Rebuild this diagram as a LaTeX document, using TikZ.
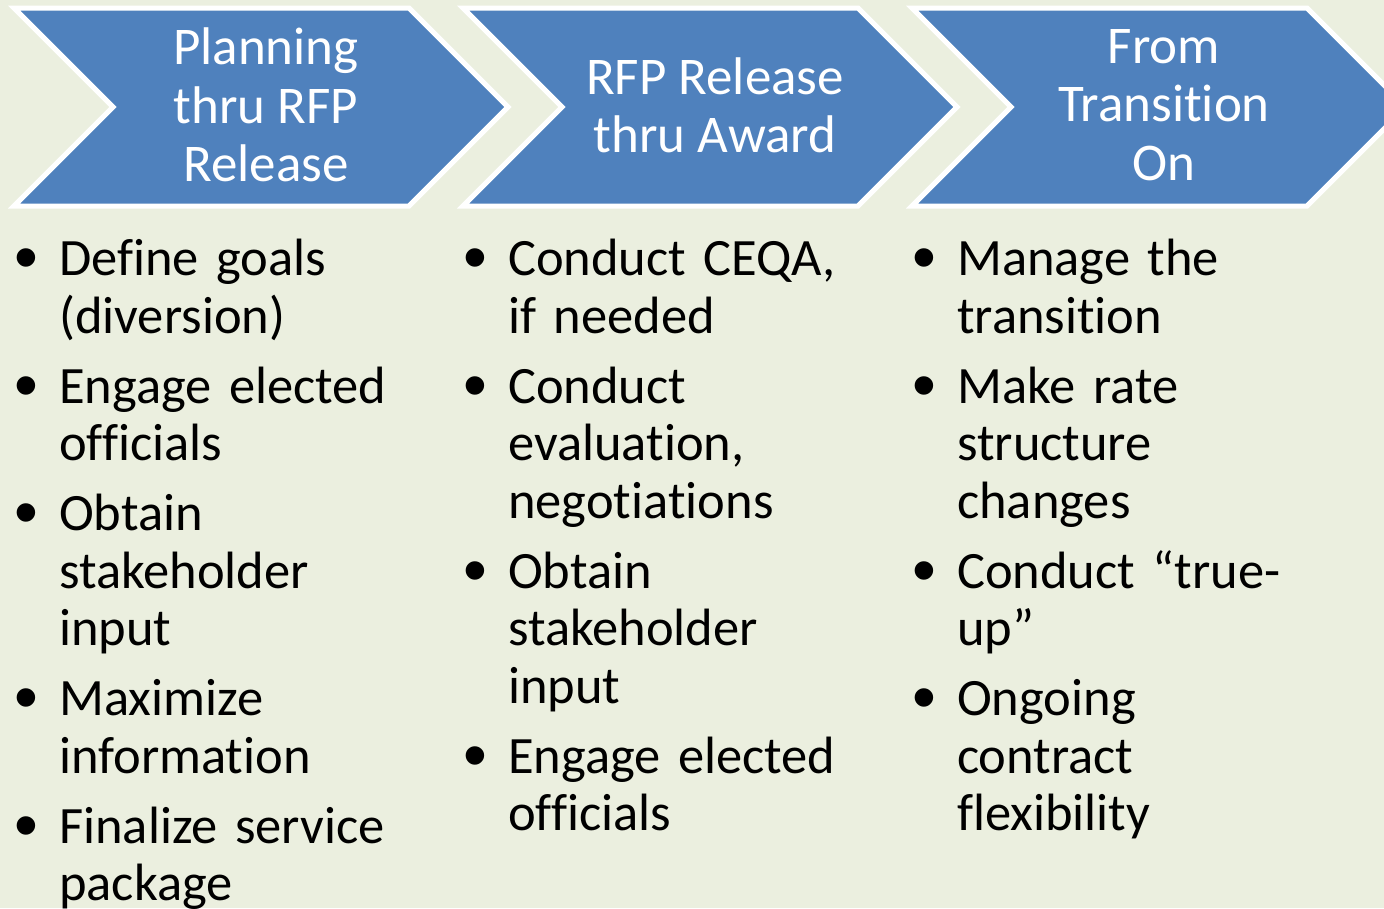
\documentclass[tikz,border=0pt]{standalone}
\usepackage{fontspec}
\setmainfont{Carlito}[Ligatures={TeX,NoCommon}]
\newfontfamily\bulletfont{Liberation Sans}
\usetikzlibrary{positioning}
\definecolor{chevblue}{HTML}{4F81BD}
\definecolor{paper}{HTML}{EBEFDF}
% bullet list used under each chevron
\newcommand{\stepbullet}{\raisebox{-5pt}{\bulletfont\fontsize{68}{68}\selectfont\char"2022}}
\newenvironment{steplist}{%
  \begin{list}{\stepbullet}{%
    \setlength{\leftmargin}{45pt}\setlength{\labelsep}{21pt}%
    \setlength{\labelwidth}{24pt}\setlength{\itemindent}{0pt}%
    \setlength{\itemsep}{12.5pt}\setlength{\parsep}{0pt}%
    \setlength{\topsep}{0pt}\setlength{\partopsep}{0pt}}\raggedright}%
  {\end{list}}

\begin{document}
\begin{tikzpicture}[
    x=1pt, y=-1pt,
    chevron/.style={fill=chevblue, draw=white, line width=5pt},
    header/.style={text=white, align=center, inner sep=0pt, font=\fontsize{53}{58.3}\selectfont},
    column/.style={anchor=base west, inner sep=0pt, text width=430pt, font=\fontsize{52.5}{57.5}\selectfont}
]
\useasboundingbox (0,0) rectangle (1384,908);
\fill[paper] (0,0) rectangle (1384,908);
\clip (0,0) rectangle (1384,908);

% Chevrons
\foreach \ox in {0,449,898}
  \draw[chevron] (14+\ox,8) -- (409+\ox,8) -- (508+\ox,107) -- (409+\ox,206)
    -- (14+\ox,206) -- (113+\ox,107) -- cycle;

% Headers
\node[header] (plan) at (266,105) {Planning\\thru RFP\\Release};
\node[header] (award) at (715,105) {RFP Release\\thru Award};
\node[header] (transition) at (1164,105) {From\\Transition\\On};

% Bullet columns
\node[column] (planlist) at (14,218) {\begin{steplist}
  \item Define goals\\(diversion)
  \item Engage elected\\officials
  \item Obtain\\stakeholder\\input
  \item Maximize\\information
  \item Finalize service\\package
\end{steplist}};
\node[column] (awardlist) at (463,218) {\begin{steplist}
  \item Conduct CEQA,\\if needed
  \item Conduct\\evaluation,\\negotiations
  \item Obtain\\stakeholder\\input
  \item Engage elected\\officials
\end{steplist}};
\node[column] (translist) at (912,218) {\begin{steplist}
  \item Manage the\\transition
  \item Make rate\\structure\\changes
  \item Conduct “true-\\up”
  \item Ongoing\\contract\\flexibility
\end{steplist}};

\end{tikzpicture}
\end{document}
